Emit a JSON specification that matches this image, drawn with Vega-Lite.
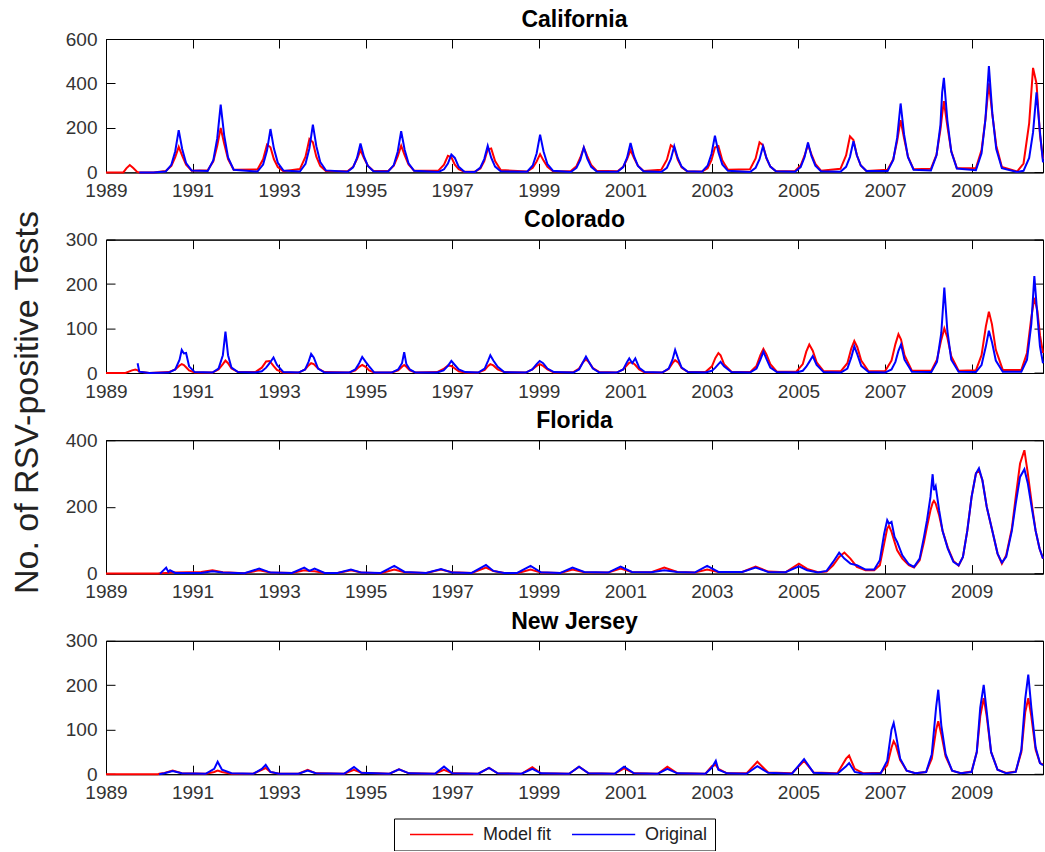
{
  "$schema": "https://vega.github.io/schema/vega-lite/v6.json",
  "padding": {"left": 10, "top": 8, "right": 1, "bottom": 0},
  "background": "white",
  "title": {"text": "No. of RSV-positive Tests", "orient": "left", "anchor": "middle", "frame": "bounds", "fontSize": 34, "fontWeight": "normal", "font": "Liberation Sans", "color": "#222", "offset": 20, "dx": 27},
  "datasets": {
    "ca": [
      {"x":1989,"m":0},{"x":1989.4,"m":0},{"x":1989.47,"m":18},{"x":1989.55,"m":33},{"x":1989.63,"m":20},{"x":1989.72,"m":2},{"x":1989.77,"m":0,"o":0},{"x":1990.1,"m":0,"o":0},
      {"x":1990.38,"m":6,"o":4},{"x":1990.51,"m":29,"o":34},{"x":1990.6,"m":69,"o":95},{"x":1990.68,"m":115,"o":190},{"x":1990.76,"m":75,"o":105},{"x":1990.85,"m":35,"o":42},{"x":1990.98,"m":7,"o":8},
      {"x":1991.35,"m":10,"o":6},{"x":1991.48,"m":50,"o":55},{"x":1991.57,"m":120,"o":153},{"x":1991.65,"m":200,"o":305},{"x":1991.73,"m":130,"o":168},{"x":1991.82,"m":60,"o":67},{"x":1991.95,"m":12,"o":12},
      {"x":1992.5,"m":13,"o":4},{"x":1992.63,"m":59,"o":35},{"x":1992.72,"m":125,"o":98},{"x":1992.8,"m":113,"o":195},{"x":1992.88,"m":59,"o":107},{"x":1992.97,"m":24,"o":43},{"x":1993.1,"m":5,"o":8},
      {"x":1993.48,"m":15,"o":4},{"x":1993.61,"m":71,"o":39},{"x":1993.7,"m":150,"o":108},{"x":1993.78,"m":135,"o":215},{"x":1993.86,"m":71,"o":118},{"x":1993.95,"m":29,"o":47},{"x":1994.08,"m":6,"o":9},
      {"x":1994.58,"m":5,"o":3},{"x":1994.71,"m":25,"o":23},{"x":1994.8,"m":60,"o":65},{"x":1994.88,"m":100,"o":130},{"x":1994.96,"m":65,"o":72},{"x":1995.05,"m":30,"o":29},{"x":1995.18,"m":6,"o":5},
      {"x":1995.52,"m":6,"o":4},{"x":1995.65,"m":30,"o":33},{"x":1995.74,"m":72,"o":93},{"x":1995.82,"m":120,"o":185},{"x":1995.9,"m":78,"o":102},{"x":1995.99,"m":36,"o":41},{"x":1996.12,"m":7,"o":7},
      {"x":1996.68,"m":8,"o":2},{"x":1996.81,"m":35,"o":14},{"x":1996.9,"m":75,"o":40},{"x":1996.98,"m":68,"o":80},{"x":1997.06,"m":35,"o":65},{"x":1997.15,"m":14,"o":25},{"x":1997.28,"m":3,"o":3},
      {"x":1997.52,"m":3,"o":2},{"x":1997.65,"m":17,"o":22},{"x":1997.74,"m":51,"o":60},{"x":1997.82,"m":103,"o":120},{"x":1997.9,"m":108,"o":66},{"x":1997.99,"m":51,"o":26},{"x":1998.12,"m":11,"o":5},
      {"x":1998.73,"m":4,"o":3},{"x":1998.86,"m":21,"o":31},{"x":1998.95,"m":49,"o":85},{"x":1999.03,"m":82,"o":170},{"x":1999.11,"m":53,"o":94},{"x":1999.2,"m":25,"o":37},{"x":1999.33,"m":5,"o":7},
      {"x":1999.74,"m":6,"o":2},{"x":1999.87,"m":28,"o":20},{"x":1999.96,"m":67,"o":56},{"x":2000.04,"m":112,"o":112},{"x":2000.12,"m":73,"o":62},{"x":2000.21,"m":34,"o":25},{"x":2000.34,"m":7,"o":4},
      {"x":2000.82,"m":5,"o":3},{"x":2000.95,"m":25,"o":24},{"x":2001.04,"m":60,"o":66},{"x":2001.12,"m":100,"o":132},{"x":2001.2,"m":65,"o":73},{"x":2001.29,"m":30,"o":29},{"x":2001.42,"m":6,"o":5},
      {"x":2001.83,"m":12,"o":2},{"x":2001.96,"m":57,"o":21},{"x":2002.05,"m":122,"o":59},{"x":2002.13,"m":110,"o":118},{"x":2002.21,"m":57,"o":65},{"x":2002.3,"m":23,"o":26},{"x":2002.43,"m":5,"o":5},
      {"x":2002.77,"m":4,"o":3},{"x":2002.9,"m":19,"o":30},{"x":2002.99,"m":55,"o":83},{"x":2003.07,"m":112,"o":165},{"x":2003.15,"m":118,"o":91},{"x":2003.24,"m":55,"o":36},{"x":2003.37,"m":12,"o":7},
      {"x":2003.88,"m":14,"o":2},{"x":2004.01,"m":63,"o":21},{"x":2004.1,"m":135,"o":59},{"x":2004.18,"m":122,"o":118},{"x":2004.26,"m":63,"o":65},{"x":2004.35,"m":26,"o":26},{"x":2004.48,"m":5,"o":5},
      {"x":2004.92,"m":6,"o":3},{"x":2005.05,"m":31,"o":24},{"x":2005.14,"m":75,"o":68},{"x":2005.22,"m":125,"o":135},{"x":2005.3,"m":81,"o":74},{"x":2005.39,"m":38,"o":30},{"x":2005.52,"m":8,"o":5},
      {"x":2005.97,"m":16,"o":3},{"x":2006.1,"m":76,"o":25},{"x":2006.19,"m":162,"o":70},{"x":2006.27,"m":146,"o":140},{"x":2006.35,"m":76,"o":77},{"x":2006.44,"m":31,"o":31},{"x":2006.57,"m":6,"o":6},
      {"x":2007.06,"m":12,"o":6},{"x":2007.19,"m":59,"o":56},{"x":2007.28,"m":141,"o":155},{"x":2007.36,"m":235,"o":310},{"x":2007.44,"m":153,"o":171},{"x":2007.53,"m":71,"o":68},{"x":2007.66,"m":14,"o":12},
      {"x":2008.06,"m":16,"o":9},{"x":2008.19,"m":80,"o":77},{"x":2008.28,"m":192,"o":213},{"x":2008.32,"m":260,"o":360},{"x":2008.36,"m":320,"o":425},{"x":2008.44,"m":208,"o":234},{"x":2008.53,"m":96,"o":94},{"x":2008.66,"m":19,"o":17},
      {"x":2009.1,"m":20,"o":10},{"x":2009.23,"m":100,"o":86},{"x":2009.32,"m":240,"o":239},{"x":2009.4,"m":400,"o":478},{"x":2009.48,"m":260,"o":263},{"x":2009.57,"m":120,"o":105},{"x":2009.7,"m":24,"o":19},
      {"x":2010.05,"m":4,"o":2},{"x":2010.2,"m":40,"o":7},{"x":2010.33,"m":220,"o":65},{"x":2010.42,"m":470,"o":180},{"x":2010.5,"m":400,"o":360},{"x":2010.58,"m":170,"o":180},{"x":2010.65,"m":60,"o":45}
    ],
    "co": [
      {"x":1989,"m":0},{"x":1989.45,"m":0},{"x":1989.6,"m":6},{"x":1989.68,"m":8},{"x":1989.73,"m":6,"o":22},{"x":1989.77,"m":3,"o":3},{"x":1990,"m":0,"o":0},
      {"x":1990.45,"m":2,"o":1},{"x":1990.6,"m":8,"o":8},{"x":1990.7,"m":17,"o":30},{"x":1990.75,"m":20,"o":52},{"x":1990.8,"m":18,"o":44},{"x":1990.85,"m":13,"o":45},{"x":1990.92,"m":6,"o":15},{"x":1991.05,"m":1,"o":2},
      {"x":1991.46,"m":1,"o":1},{"x":1991.6,"m":8,"o":10},{"x":1991.7,"m":20,"o":40},{"x":1991.76,"m":28,"o":93},{"x":1991.82,"m":22,"o":40},{"x":1991.9,"m":10,"o":12},{"x":1992.05,"m":2,"o":2},
      {"x":1992.45,"m":2,"o":1},{"x":1992.6,"m":12,"o":4},{"x":1992.7,"m":26,"o":12},{"x":1992.78,"m":27,"o":22},{"x":1992.87,"m":16,"o":35},{"x":1992.95,"m":7,"o":18},{"x":1993.1,"m":1,"o":2},
      {"x":1993.45,"m":1,"o":1},{"x":1993.6,"m":8,"o":8},{"x":1993.68,"m":17,"o":25},{"x":1993.74,"m":22,"o":43},{"x":1993.8,"m":20,"o":35},{"x":1993.9,"m":10,"o":10},{"x":1994.05,"m":2,"o":1},
      {"x":1994.62,"m":1,"o":1},{"x":1994.76,"m":6,"o":8},{"x":1994.85,"m":14,"o":22},{"x":1994.92,"m":18,"o":36},{"x":1995,"m":14,"o":25},{"x":1995.08,"m":6,"o":15},{"x":1995.2,"m":1,"o":1},
      {"x":1995.6,"m":1,"o":1},{"x":1995.75,"m":6,"o":8},{"x":1995.84,"m":14,"o":22},{"x":1995.89,"m":18,"o":47},{"x":1995.94,"m":14,"o":20},{"x":1996.02,"m":6,"o":8},{"x":1996.15,"m":1,"o":1},
      {"x":1996.65,"m":2,"o":1},{"x":1996.8,"m":9,"o":6},{"x":1996.9,"m":17,"o":16},{"x":1996.98,"m":16,"o":27},{"x":1997.06,"m":10,"o":18},{"x":1997.15,"m":4,"o":8},{"x":1997.3,"m":1,"o":2},
      {"x":1997.6,"m":1,"o":1},{"x":1997.75,"m":7,"o":10},{"x":1997.83,"m":16,"o":28},{"x":1997.88,"m":20,"o":40},{"x":1997.95,"m":17,"o":28},{"x":1998.05,"m":8,"o":14},{"x":1998.2,"m":2,"o":2},
      {"x":1998.7,"m":1,"o":1},{"x":1998.85,"m":8,"o":8},{"x":1998.95,"m":16,"o":20},{"x":1999.02,"m":20,"o":27},{"x":1999.1,"m":16,"o":22},{"x":1999.2,"m":8,"o":10},{"x":1999.35,"m":1,"o":2},
      {"x":1999.8,"m":2,"o":1},{"x":1999.93,"m":10,"o":8},{"x":2000.02,"m":24,"o":24},{"x":2000.09,"m":31,"o":37},{"x":2000.16,"m":24,"o":25},{"x":2000.25,"m":11,"o":10},{"x":2000.4,"m":2,"o":1},
      {"x":2000.8,"m":1,"o":1},{"x":2000.95,"m":8,"o":8},{"x":2001.04,"m":18,"o":25},{"x":2001.09,"m":23,"o":33},{"x":2001.16,"m":24,"o":22},{"x":2001.23,"m":18,"o":33},{"x":2001.32,"m":8,"o":12},{"x":2001.45,"m":1,"o":2},
      {"x":2001.85,"m":1,"o":1},{"x":2002,"m":9,"o":10},{"x":2002.09,"m":22,"o":30},{"x":2002.15,"m":29,"o":52},{"x":2002.22,"m":24,"o":32},{"x":2002.3,"m":11,"o":12},{"x":2002.45,"m":2,"o":2},
      {"x":2002.85,"m":2,"o":1},{"x":2003,"m":15,"o":5},{"x":2003.08,"m":34,"o":12},{"x":2003.15,"m":45,"o":20},{"x":2003.2,"m":40,"o":25},{"x":2003.28,"m":20,"o":15},{"x":2003.45,"m":3,"o":2},
      {"x":2003.88,"m":2,"o":1},{"x":2004.03,"m":16,"o":10},{"x":2004.12,"m":40,"o":30},{"x":2004.19,"m":54,"o":48},{"x":2004.26,"m":42,"o":32},{"x":2004.35,"m":20,"o":12},{"x":2004.5,"m":3,"o":2},
      {"x":2004.95,"m":3,"o":1},{"x":2005.1,"m":20,"o":5},{"x":2005.18,"m":48,"o":14},{"x":2005.25,"m":64,"o":25},{"x":2005.33,"m":50,"o":38},{"x":2005.42,"m":24,"o":18},{"x":2005.58,"m":4,"o":2},
      {"x":2005.98,"m":4,"o":1},{"x":2006.13,"m":22,"o":10},{"x":2006.22,"m":55,"o":35},{"x":2006.29,"m":72,"o":60},{"x":2006.36,"m":58,"o":42},{"x":2006.45,"m":28,"o":16},{"x":2006.62,"m":4,"o":2},
      {"x":2007,"m":4,"o":1},{"x":2007.15,"m":28,"o":8},{"x":2007.24,"m":65,"o":25},{"x":2007.31,"m":87,"o":50},{"x":2007.37,"m":75,"o":64},{"x":2007.45,"m":40,"o":30},{"x":2007.62,"m":5,"o":3},
      {"x":2008.07,"m":5,"o":2},{"x":2008.2,"m":30,"o":25},{"x":2008.3,"m":75,"o":90},{"x":2008.37,"m":100,"o":192},{"x":2008.44,"m":80,"o":95},{"x":2008.53,"m":38,"o":30},{"x":2008.7,"m":5,"o":3},
      {"x":2009.1,"m":6,"o":2},{"x":2009.23,"m":40,"o":18},{"x":2009.33,"m":105,"o":60},{"x":2009.4,"m":138,"o":95},{"x":2009.47,"m":110,"o":70},{"x":2009.56,"m":52,"o":28},{"x":2009.72,"m":7,"o":3},
      {"x":2010.15,"m":7,"o":3},{"x":2010.28,"m":45,"o":30},{"x":2010.38,"m":125,"o":110},{"x":2010.45,"m":169,"o":218},{"x":2010.52,"m":140,"o":130},{"x":2010.58,"m":85,"o":60},{"x":2010.65,"m":45,"o":22}
    ],
    "fl": [
      {"x":1989,"m":0},{"x":1990.2,"m":0},{"x":1990.25,"m":1,"o":0},
      {"x":1990.39,"m":2,"o":18},{"x":1990.44,"m":2,"o":5},{"x":1990.48,"m":3,"o":10},{"x":1990.6,"m":3,"o":2},
      {"x":1991.2,"m":5,"o":2},{"x":1991.46,"m":10,"o":7},{"x":1991.7,"m":4,"o":3},
      {"x":1992.2,"m":1,"o":1},{"x":1992.54,"m":10,"o":15},{"x":1992.8,"m":3,"o":3},
      {"x":1993.3,"m":2,"o":2},{"x":1993.58,"m":10,"o":18},{"x":1993.7,"m":8,"o":8},{"x":1993.82,"m":7,"o":15},{"x":1994.05,"m":2,"o":2},
      {"x":1994.35,"m":2,"o":2},{"x":1994.66,"m":10,"o":12},{"x":1994.9,"m":3,"o":3},
      {"x":1995.35,"m":1,"o":2},{"x":1995.66,"m":12,"o":23},{"x":1995.9,"m":4,"o":5},
      {"x":1996.4,"m":2,"o":2},{"x":1996.74,"m":12,"o":14},{"x":1997,"m":4,"o":3},
      {"x":1997.45,"m":2,"o":2},{"x":1997.78,"m":18,"o":26},{"x":1997.95,"m":8,"o":8},{"x":1998.2,"m":2,"o":2},
      {"x":1998.5,"m":1,"o":2},{"x":1998.81,"m":12,"o":23},{"x":1999.05,"m":3,"o":4},
      {"x":1999.5,"m":2,"o":2},{"x":1999.78,"m":12,"o":18},{"x":2000.05,"m":4,"o":5},
      {"x":2000.6,"m":3,"o":3},{"x":2000.89,"m":15,"o":21},{"x":2001.15,"m":5,"o":5},
      {"x":2001.6,"m":4,"o":4},{"x":2001.9,"m":18,"o":10},{"x":2002.2,"m":5,"o":5},
      {"x":2002.6,"m":3,"o":3},{"x":2002.89,"m":12,"o":23},{"x":2003.15,"m":5,"o":5},
      {"x":2003.7,"m":5,"o":5},{"x":2004.01,"m":21,"o":18},{"x":2004.3,"m":6,"o":5},
      {"x":2004.7,"m":4,"o":4},{"x":2005.01,"m":30,"o":22},{"x":2005.2,"m":14,"o":10},{"x":2005.45,"m":4,"o":3},
      {"x":2005.65,"m":6,"o":8},{"x":2005.8,"m":25,"o":35},{"x":2005.94,"m":50,"o":63},{"x":2006.06,"m":63,"o":45},{"x":2006.2,"m":45,"o":30},{"x":2006.35,"m":20,"o":25},{"x":2006.55,"m":10,"o":12},{"x":2006.75,"m":10,"o":12},
      {"x":2006.88,"m":25,"o":40},{"x":2006.98,"m":90,"o":120},{"x":2007.05,"m":135,"o":160},{"x":2007.09,"m":143,"o":150},{"x":2007.15,"m":125,"o":155},{"x":2007.22,"m":95,"o":110},{"x":2007.28,"m":70,"o":95},{"x":2007.4,"m":45,"o":55},{"x":2007.55,"m":25,"o":28},
      {"x":2007.67,"m":18,"o":20},{"x":2007.8,"m":40,"o":45},{"x":2007.9,"m":95,"o":110},{"x":2007.97,"m":140,"o":160},{"x":2008.05,"m":190,"o":230},{"x":2008.1,"m":212,"o":298},{"x":2008.13,"m":218,"o":250},{"x":2008.17,"m":210,"o":262},{"x":2008.25,"m":175,"o":190},{"x":2008.33,"m":128,"o":128},{"x":2008.45,"m":78,"o":75},{"x":2008.58,"m":38,"o":35},
      {"x":2008.7,"m":24,"o":25},{"x":2008.8,"m":50,"o":50},{"x":2008.9,"m":128,"o":128},{"x":2009,"m":230,"o":230},{"x":2009.1,"m":300,"o":300},{"x":2009.17,"m":310,"o":316},{"x":2009.25,"m":280,"o":280},{"x":2009.35,"m":200,"o":200},{"x":2009.48,"m":128,"o":128},{"x":2009.6,"m":60,"o":60},
      {"x":2009.7,"m":30,"o":33},{"x":2009.8,"m":55,"o":50},{"x":2009.93,"m":135,"o":128},{"x":2010.02,"m":230,"o":210},{"x":2010.12,"m":330,"o":290},{"x":2010.22,"m":370,"o":313},{"x":2010.3,"m":300,"o":270},{"x":2010.4,"m":200,"o":190},{"x":2010.48,"m":128,"o":128},{"x":2010.57,"m":75,"o":75},{"x":2010.65,"m":45,"o":45}
    ],
    "nj": [
      {"x":1989,"m":0},{"x":1990.2,"m":0},{"x":1990.23,"m":1,"o":0},
      {"x":1990.35,"m":3,"o":2},{"x":1990.54,"m":8,"o":7},{"x":1990.75,"m":2,"o":2},
      {"x":1991.3,"m":1,"o":1},{"x":1991.5,"m":5,"o":12},{"x":1991.58,"m":8,"o":28},{"x":1991.68,"m":5,"o":10},{"x":1991.9,"m":1,"o":2},
      {"x":1992.4,"m":1,"o":1},{"x":1992.6,"m":10,"o":12},{"x":1992.69,"m":14,"o":21},{"x":1992.8,"m":5,"o":5},{"x":1993,"m":1,"o":1},
      {"x":1993.45,"m":1,"o":1},{"x":1993.66,"m":10,"o":8},{"x":1993.85,"m":2,"o":2},
      {"x":1994.5,"m":1,"o":1},{"x":1994.73,"m":10,"o":16},{"x":1994.9,"m":3,"o":3},
      {"x":1995.55,"m":1,"o":1},{"x":1995.77,"m":11,"o":11},{"x":1996,"m":2,"o":2},
      {"x":1996.6,"m":1,"o":1},{"x":1996.81,"m":10,"o":17},{"x":1997,"m":2,"o":2},
      {"x":1997.6,"m":1,"o":1},{"x":1997.85,"m":14,"o":14},{"x":1998.05,"m":2,"o":2},
      {"x":1998.6,"m":1,"o":1},{"x":1998.85,"m":16,"o":12},{"x":1999.05,"m":2,"o":2},
      {"x":1999.7,"m":1,"o":1},{"x":1999.93,"m":17,"o":17},{"x":2000.15,"m":2,"o":2},
      {"x":2000.75,"m":1,"o":1},{"x":2000.97,"m":13,"o":17},{"x":2001.2,"m":2,"o":2},
      {"x":2001.75,"m":1,"o":1},{"x":2001.97,"m":17,"o":12},{"x":2002.2,"m":2,"o":2},
      {"x":2002.85,"m":1,"o":1},{"x":2003,"m":18,"o":15},{"x":2003.09,"m":21,"o":30},{"x":2003.15,"m":12,"o":10},{"x":2003.35,"m":2,"o":2},
      {"x":2003.8,"m":2,"o":1},{"x":2004.05,"m":28,"o":18},{"x":2004.3,"m":4,"o":3},
      {"x":2004.85,"m":2,"o":1},{"x":2005.13,"m":30,"o":34},{"x":2005.35,"m":4,"o":3},
      {"x":2005.9,"m":2,"o":1},{"x":2006.1,"m":35,"o":18},{"x":2006.17,"m":42,"o":25},{"x":2006.3,"m":12,"o":5},{"x":2006.5,"m":2,"o":1},
      {"x":2006.9,"m":3,"o":2},{"x":2007.05,"m":20,"o":30},{"x":2007.15,"m":60,"o":100},{"x":2007.2,"m":74,"o":115},{"x":2007.25,"m":65,"o":90},{"x":2007.35,"m":32,"o":35},{"x":2007.5,"m":8,"o":8},{"x":2007.7,"m":2,"o":2},
      {"x":2007.95,"m":5,"o":5},{"x":2008.08,"m":35,"o":45},{"x":2008.18,"m":100,"o":150},{"x":2008.23,"m":119,"o":190},{"x":2008.3,"m":90,"o":110},{"x":2008.4,"m":40,"o":45},{"x":2008.55,"m":8,"o":8},{"x":2008.75,"m":2,"o":2},
      {"x":2009,"m":6,"o":5},{"x":2009.12,"m":50,"o":50},{"x":2009.2,"m":130,"o":150},{"x":2009.28,"m":171,"o":201},{"x":2009.35,"m":130,"o":140},{"x":2009.45,"m":50,"o":50},{"x":2009.6,"m":10,"o":10},{"x":2009.8,"m":3,"o":2},
      {"x":2010.02,"m":6,"o":5},{"x":2010.15,"m":50,"o":55},{"x":2010.24,"m":140,"o":170},{"x":2010.31,"m":171,"o":224},{"x":2010.38,"m":130,"o":150},{"x":2010.48,"m":55,"o":60},{"x":2010.58,"m":25,"o":25},{"x":2010.65,"m":22,"o":20}
    ]
  },
  "bounds": "flush",
  "spacing": 66.6,
  "resolve": {"scale": {"x": "independent", "y": "independent", "color": "shared"}, "legend": {"color": "shared"}},
  "vconcat": [
    {
      "title": {"text": "California"},
      "width": 937, "height": 133.4,
      "data": {"name": "ca"},
      "transform": [{"fold": ["m", "o"], "as": ["s", "v"]}, {"filter": "isValid(datum.v)"}],
      "layer": [
        {"mark": {"type": "line", "strokeWidth": 2},
         "encoding": {
           "x": {"field": "x", "type": "quantitative", "scale": {"domain": [1989, 2010.65], "nice": false, "zero": false}, "axis": {"orient": "bottom", "values": [1989,1991,1993,1995,1997,1999,2001,2003,2005,2007,2009], "format": "d", "title": null, "tickSize": -9, "labelPadding": 18}},
           "y": {"field": "v", "type": "quantitative", "scale": {"domain": [0, 600], "nice": false}, "axis": {"orient": "left", "values": [0,200,400,600], "title": null, "tickSize": -9, "labelPadding": 18}},
           "color": {"field": "s", "type": "nominal", "scale": {"domain": ["m", "o"], "range": ["#ff0000", "#0000ff"]}, "legend": {"orient": "none", "legendX": 288, "legendY": 779.5, "direction": "horizontal", "columns": 2, "title": null, "labelExpr": "datum.label == 'm' ? 'Model fit' : 'Original'", "symbolType": "M0,0H7.9", "symbolSize": 256, "symbolStrokeWidth": 1.5, "labelFontSize": 18, "labelFont": "Liberation Sans", "labelColor": "#222", "labelOffset": 64, "columnPadding": 11, "padding": 7, "strokeColor": "black", "fillColor": "white"}}
         }},
        {"mark": {"type": "line", "opacity": 0},
         "encoding": {
           "x": {"field": "x", "type": "quantitative", "axis": {"orient": "top", "values": [1989,1991,1993,1995,1997,1999,2001,2003,2005,2007,2009], "labels": false, "title": null, "tickSize": -9}},
           "y": {"field": "v", "type": "quantitative", "axis": {"orient": "right", "values": [0,200,400,600], "labels": false, "title": null, "tickSize": -9}}
         }}
      ],
      "resolve": {"axis": {"x": "independent", "y": "independent"}}
    },
    {
      "title": {"text": "Colorado"},
      "width": 937, "height": 133.4,
      "data": {"name": "co"},
      "transform": [{"fold": ["m", "o"], "as": ["s", "v"]}, {"filter": "isValid(datum.v)"}],
      "layer": [
        {"mark": {"type": "line", "strokeWidth": 2},
         "encoding": {
           "x": {"field": "x", "type": "quantitative", "scale": {"domain": [1989, 2010.65], "nice": false, "zero": false}, "axis": {"orient": "bottom", "values": [1989,1991,1993,1995,1997,1999,2001,2003,2005,2007,2009], "format": "d", "title": null, "tickSize": -9, "labelPadding": 18}},
           "y": {"field": "v", "type": "quantitative", "scale": {"domain": [0, 300], "nice": false}, "axis": {"orient": "left", "values": [0,100,200,300], "title": null, "tickSize": -9, "labelPadding": 18}},
           "color": {"field": "s", "type": "nominal", "scale": {"domain": ["m", "o"], "range": ["#ff0000", "#0000ff"]}}
         }},
        {"mark": {"type": "line", "opacity": 0},
         "encoding": {
           "x": {"field": "x", "type": "quantitative", "axis": {"orient": "top", "values": [1989,1991,1993,1995,1997,1999,2001,2003,2005,2007,2009], "labels": false, "title": null, "tickSize": -9}},
           "y": {"field": "v", "type": "quantitative", "axis": {"orient": "right", "values": [0,100,200,300], "labels": false, "title": null, "tickSize": -9}}
         }}
      ],
      "resolve": {"axis": {"x": "independent", "y": "independent"}}
    },
    {
      "title": {"text": "Florida"},
      "width": 937, "height": 133.4,
      "data": {"name": "fl"},
      "transform": [{"fold": ["m", "o"], "as": ["s", "v"]}, {"filter": "isValid(datum.v)"}],
      "layer": [
        {"mark": {"type": "line", "strokeWidth": 2},
         "encoding": {
           "x": {"field": "x", "type": "quantitative", "scale": {"domain": [1989, 2010.65], "nice": false, "zero": false}, "axis": {"orient": "bottom", "values": [1989,1991,1993,1995,1997,1999,2001,2003,2005,2007,2009], "format": "d", "title": null, "tickSize": -9, "labelPadding": 18}},
           "y": {"field": "v", "type": "quantitative", "scale": {"domain": [0, 400], "nice": false}, "axis": {"orient": "left", "values": [0,200,400], "title": null, "tickSize": -9, "labelPadding": 18}},
           "color": {"field": "s", "type": "nominal", "scale": {"domain": ["m", "o"], "range": ["#ff0000", "#0000ff"]}}
         }},
        {"mark": {"type": "line", "opacity": 0},
         "encoding": {
           "x": {"field": "x", "type": "quantitative", "axis": {"orient": "top", "values": [1989,1991,1993,1995,1997,1999,2001,2003,2005,2007,2009], "labels": false, "title": null, "tickSize": -9}},
           "y": {"field": "v", "type": "quantitative", "axis": {"orient": "right", "values": [0,200,400], "labels": false, "title": null, "tickSize": -9}}
         }}
      ],
      "resolve": {"axis": {"x": "independent", "y": "independent"}}
    },
    {
      "title": {"text": "New Jersey"},
      "width": 937, "height": 133.4,
      "data": {"name": "nj"},
      "transform": [{"fold": ["m", "o"], "as": ["s", "v"]}, {"filter": "isValid(datum.v)"}],
      "layer": [
        {"mark": {"type": "line", "strokeWidth": 2},
         "encoding": {
           "x": {"field": "x", "type": "quantitative", "scale": {"domain": [1989, 2010.65], "nice": false, "zero": false}, "axis": {"orient": "bottom", "values": [1989,1991,1993,1995,1997,1999,2001,2003,2005,2007,2009], "format": "d", "title": null, "tickSize": -9, "labelPadding": 18}},
           "y": {"field": "v", "type": "quantitative", "scale": {"domain": [0, 300], "nice": false}, "axis": {"orient": "left", "values": [0,100,200,300], "title": null, "tickSize": -9, "labelPadding": 18}},
           "color": {"field": "s", "type": "nominal", "scale": {"domain": ["m", "o"], "range": ["#ff0000", "#0000ff"]}}
         }},
        {"mark": {"type": "line", "opacity": 0},
         "encoding": {
           "x": {"field": "x", "type": "quantitative", "axis": {"orient": "top", "values": [1989,1991,1993,1995,1997,1999,2001,2003,2005,2007,2009], "labels": false, "title": null, "tickSize": -9}},
           "y": {"field": "v", "type": "quantitative", "axis": {"orient": "right", "values": [0,100,200,300], "labels": false, "title": null, "tickSize": -9}}
         }}
      ],
      "resolve": {"axis": {"x": "independent", "y": "independent"}}
    }
  ],
  "config": {
    "view": {"stroke": "black", "strokeWidth": 1},
    "axis": {"domainColor": "black", "domainWidth": 1, "tickColor": "black", "tickWidth": 1, "labelColor": "#333", "labelFont": "Liberation Sans", "labelFontSize": 19, "grid": false, "labelFlush": false, "labelOverlap": false},
    "title": {"font": "Liberation Sans", "fontSize": 23, "fontWeight": "bold", "color": "black", "offset": -1.7}
  }
}
